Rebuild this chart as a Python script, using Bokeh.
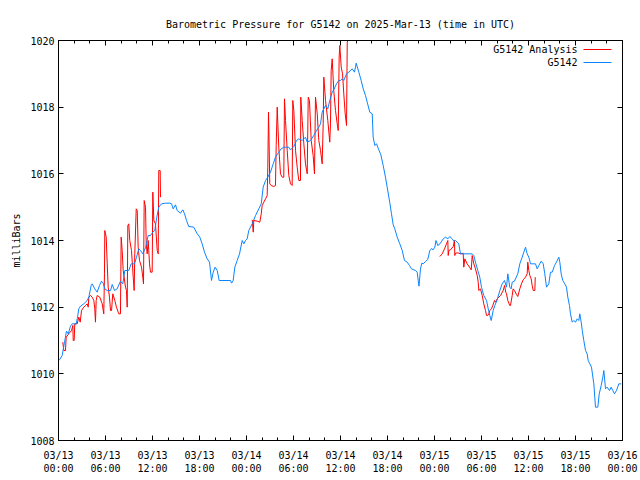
from bokeh.plotting import figure
from bokeh.models import FixedTicker, Range1d, LinearAxis, Label, Arrow
from bokeh.embed import file_html
from bokeh.resources import INLINE

FONT = "DejaVu Sans Mono"
TITLE = "Barometric Pressure for G5142 on 2025-Mar-13 (time in UTC)"
Y_LABEL = "milliBars"
SERIES_ANALYSIS = "G5142 Analysis"
SERIES_OBS = "G5142"

# hours since 2025-03-13 00:00 UTC
x_ticks = [0, 6, 12, 18, 24, 30, 36, 42, 48, 54, 60, 66, 72]
x_tick_labels = ["03/13\n00:00", "03/13\n06:00", "03/13\n12:00", "03/13\n18:00",
                 "03/14\n00:00", "03/14\n06:00", "03/14\n12:00", "03/14\n18:00",
                 "03/15\n00:00", "03/15\n06:00", "03/15\n12:00", "03/15\n18:00",
                 "03/16\n00:00"]
x_minor = list(range(0, 73, 2))
y_ticks = [1008, 1010, 1012, 1014, 1016, 1018, 1020]

# observed pressure (blue)
obs_t = [0, 0.13, 0.47, 0.77, 1.02, 1.24, 1.53, 1.75, 2.26, 2.43, 2.59, 2.81, 3.23, 3.66, 3.87,
         4.17, 4.30, 4.63, 4.94, 5.23, 5.49, 5.71, 5.91, 6.22, 6.64, 6.86, 7.15, 7.49, 7.91, 8.21,
         8.46, 8.97, 9.28, 9.70, 9.96, 10.25, 10.47, 10.76, 11.11, 11.45, 11.74, 12.04, 12.29,
         12.55, 12.80, 13.15, 13.66, 14.21, 14.43, 14.64, 14.94, 15.15, 15.57, 15.87, 16.09,
         16.34, 16.63, 17.27, 17.71, 18.04, 18.34, 18.64, 18.98, 19.28, 19.53, 19.75, 20.00,
         20.26, 20.51, 21.96, 22.09, 22.30, 22.51, 22.81, 23.11, 23.45, 23.66, 23.87, 24.09,
         24.29, 24.73, 25.15, 25.57, 25.88, 26.13, 26.43, 26.72, 27.06, 27.41, 27.70, 28.12,
         28.43, 28.76, 29.40, 29.62, 30.04, 30.38, 30.68, 31.11, 31.53, 31.75, 32.17, 32.59,
         32.81, 33.23, 33.45, 33.66, 34.09, 34.38, 34.63, 34.94, 35.14, 35.49, 35.78, 36.00,
         36.22, 36.42, 36.77, 37.06, 37.49, 37.79, 38.00, 38.34, 38.64, 38.90, 39.19, 39.41,
         39.74, 40.05, 40.17, 40.38, 40.60, 40.89, 41.14, 41.45, 41.74, 41.96, 42.28, 42.51,
         42.73, 42.93, 43.24, 43.57, 43.88, 44.17, 44.51, 44.81, 45.06, 45.57, 45.79, 45.92,
         46.02, 46.21, 46.38, 46.56, 46.85, 47.14, 47.39, 47.62, 47.83, 48.04, 48.19, 48.42,
         48.70, 49.11, 49.40, 49.70, 49.95, 50.26, 50.46, 50.68, 51.10, 51.32, 52.81, 53.02,
         53.23, 53.53, 53.78, 54.00, 54.29, 54.64, 54.86, 55.06, 55.24, 55.49, 55.70, 56.00,
         56.34, 56.64, 56.94, 57.19, 57.36, 57.61, 57.79, 57.92, 58.21, 58.63, 58.89, 59.20,
         59.40, 59.62, 59.83, 60.04, 60.26, 60.47, 60.89, 61.11, 61.32, 61.62, 61.88, 62.08,
         62.30, 62.59, 62.81, 63.03, 63.32, 63.57, 63.87, 64.00, 64.17, 64.38, 64.63, 64.85,
         65.02, 65.23, 65.36, 65.58, 65.78, 66.00, 66.22, 66.42, 66.55, 66.73, 66.86, 67.06,
         67.28, 67.49, 67.62, 67.83, 68.04, 68.34, 68.55, 68.85, 69.03, 69.28, 69.49, 69.62,
         69.83, 70.04, 70.34, 70.55, 70.76, 70.98, 71.23, 71.53, 71.83]
obs_p = [1010.40, 1010.42, 1010.55, 1010.95, 1011.28, 1011.20, 1011.43, 1011.50, 1011.50, 1011.70,
         1011.95, 1012.03, 1012.10, 1012.20, 1012.30, 1012.65, 1012.70, 1012.55, 1012.45, 1012.65,
         1012.78, 1012.72, 1012.55, 1012.50, 1012.50, 1012.68, 1012.50, 1012.55, 1012.78, 1012.70,
         1013.10, 1013.10, 1013.30, 1013.30, 1013.50, 1013.75, 1013.70, 1013.60, 1013.78, 1014.15,
         1014.15, 1014.25, 1014.30, 1014.70, 1015.00, 1015.10, 1015.12, 1015.12, 1015.10, 1014.95,
         1015.07, 1014.90, 1014.82, 1014.92, 1014.80, 1014.60, 1014.42, 1014.40, 1014.20, 1014.10,
         1013.90, 1013.65, 1013.45, 1013.35, 1012.80, 1013.05, 1013.20, 1013.10, 1012.80, 1012.80,
         1012.72, 1012.80, 1013.20, 1013.40, 1013.60, 1014.00, 1013.90, 1014.00, 1014.05, 1014.30,
         1014.50, 1014.75, 1014.95, 1015.10, 1015.60, 1015.80, 1015.90, 1016.05, 1016.30, 1016.50,
         1016.65, 1016.75, 1016.80, 1016.80, 1016.72, 1016.82, 1017.00, 1017.05, 1017.00, 1017.10,
         1016.95, 1017.00, 1017.15, 1017.25, 1017.40, 1017.50, 1017.85, 1018.05, 1017.95, 1018.20,
         1018.45, 1018.52, 1018.70, 1018.80, 1018.80, 1018.85, 1018.80, 1019.00, 1019.05, 1019.15,
         1019.05, 1019.32, 1019.05, 1018.80, 1018.55, 1018.35, 1018.15, 1017.85, 1017.80, 1017.10,
         1016.85, 1016.90, 1016.72, 1016.58, 1016.25, 1015.90, 1015.60, 1015.15, 1014.80, 1014.47,
         1014.35, 1014.10, 1013.90, 1013.70, 1013.40, 1013.35, 1013.25, 1013.15, 1013.10, 1013.05,
         1012.80, 1012.63, 1013.15, 1013.32, 1013.30, 1013.37, 1013.43, 1013.69, 1013.76, 1013.72,
         1013.80, 1014.00, 1013.85, 1013.90, 1014.05, 1014.10, 1014.05, 1014.12, 1014.05, 1013.98,
         1014.00, 1013.90, 1013.60, 1013.60, 1013.55, 1013.35, 1013.10, 1012.90, 1012.60, 1012.35,
         1012.20, 1011.95, 1011.75, 1011.60, 1011.90, 1012.05, 1012.22, 1012.50, 1012.70, 1012.80,
         1012.60, 1013.00, 1012.60, 1012.55, 1012.75, 1012.78, 1013.00, 1013.30, 1013.50, 1013.65,
         1013.80, 1013.60, 1013.50, 1013.30, 1013.30, 1013.30, 1013.15, 1013.25, 1013.38, 1013.30,
         1013.00, 1012.60, 1012.70, 1013.05, 1013.05, 1013.25, 1013.35, 1013.50, 1013.35, 1013.00,
         1012.80, 1012.70, 1012.60, 1012.30, 1012.05, 1011.80, 1011.55, 1011.60, 1011.55, 1011.65,
         1011.60, 1011.80, 1011.55, 1011.30, 1011.00, 1010.70, 1010.60, 1010.40, 1010.30, 1010.20,
         1009.70, 1009.00, 1009.00, 1009.40, 1009.65, 1009.90, 1010.10, 1009.55, 1009.60, 1009.50,
         1009.60, 1009.50, 1009.40, 1009.50, 1009.70, 1009.70]

# analysis (red), three runs
ana1_t = [0.55, 0.68, 0.89, 0.98, 1.31, 1.66, 1.83, 1.88, 2.00, 2.08, 2.39, 2.59, 2.77, 2.94, 3.23,
          3.45, 3.66, 3.79, 3.87, 4.09, 4.30, 4.51, 4.63, 4.72, 4.81, 4.94, 5.27, 5.58, 5.78, 5.87,
          5.91, 6.09, 6.22, 6.34, 6.51, 6.64, 6.77, 6.93, 7.19, 7.40, 7.62, 7.70, 7.91, 8.00, 8.13,
          8.26, 8.55, 8.68, 8.77, 8.85, 8.97, 9.10, 9.32, 9.54, 9.66, 9.74, 9.92, 10.05, 10.17,
          10.34, 10.60, 10.76, 10.85, 10.94, 11.11, 11.20, 11.32, 11.45, 11.62, 11.74, 11.96,
          12.04, 12.17, 12.38, 12.60, 12.73, 12.80, 12.98, 13.02]
ana1_p = [1010.95, 1010.70, 1010.70, 1011.10, 1011.20, 1011.30, 1011.45, 1011.00, 1011.00, 1011.50,
          1011.50, 1011.70, 1011.55, 1011.90, 1012.00, 1012.05, 1012.10, 1012.00, 1012.30, 1012.35,
          1012.30, 1012.20, 1011.95, 1011.55, 1012.20, 1012.35, 1012.30, 1012.10, 1011.80, 1013.00,
          1014.30, 1014.10, 1013.30, 1012.60, 1012.30, 1011.90, 1011.90, 1012.40, 1012.20, 1012.00,
          1011.85, 1011.80, 1011.80, 1014.10, 1013.70, 1013.10, 1012.60, 1012.50, 1012.00, 1014.45,
          1014.50, 1014.00, 1013.70, 1012.90, 1012.50, 1013.60, 1014.95, 1014.90, 1013.80, 1013.40,
          1013.20, 1012.90, 1012.70, 1015.20, 1015.00, 1013.90, 1013.60, 1014.00, 1013.30, 1013.05,
          1013.05, 1015.45, 1014.60, 1014.50, 1013.70, 1013.60, 1016.10, 1016.10, 1015.30]
ana2_t = [24.73, 24.86, 24.93, 25.37, 25.70, 25.88, 26.00, 26.21, 26.43, 26.64, 26.72, 26.81, 26.90,
          26.97, 27.15, 27.48, 27.70, 27.79, 27.92, 28.00, 28.12, 28.34, 28.56, 28.76, 28.85, 28.98,
          29.20, 29.40, 29.62, 29.83, 29.91, 30.04, 30.26, 30.47, 30.68, 30.89, 30.93, 31.11, 31.32,
          31.53, 31.75, 31.88, 32.04, 32.26, 32.51, 32.68, 32.81, 33.03, 33.23, 33.45, 33.66, 33.79,
          33.87, 34.09, 34.38, 34.63, 34.72, 34.81, 34.94, 35.14, 35.36, 35.58, 35.71, 35.83, 35.91,
          36.09, 36.26, 36.42, 36.60, 36.77, 36.86, 36.93]
ana2_p = [1014.62, 1014.25, 1014.60, 1014.58, 1014.55, 1014.80, 1015.05, 1015.15, 1015.25, 1015.35,
          1016.20, 1017.85, 1016.75, 1015.70, 1015.65, 1015.62, 1015.65, 1016.85, 1018.00, 1017.50,
          1016.80, 1016.00, 1015.90, 1015.90, 1018.25, 1017.60, 1016.70, 1015.95, 1015.70, 1015.65,
          1018.20, 1017.90, 1016.70, 1016.20, 1015.80, 1015.80, 1018.30, 1017.60, 1016.90, 1016.30,
          1016.00, 1018.30, 1018.20, 1017.00, 1016.55, 1016.00, 1018.30, 1017.80, 1017.00, 1016.70,
          1016.30, 1017.50, 1018.90, 1018.20, 1017.60, 1016.95, 1017.50, 1019.10, 1019.45, 1018.50,
          1017.90, 1017.50, 1017.30, 1019.50, 1019.85, 1019.20, 1019.00, 1018.40, 1017.80, 1017.45,
          1019.95, 1020.00]
ana3_t = [48.68, 48.98, 49.28, 49.53, 49.70, 49.75, 49.83, 50.04, 50.39, 50.55, 50.59, 50.68, 50.97,
          51.32, 51.66, 51.74, 51.87, 52.17, 52.47, 52.69, 52.81, 53.02, 53.23, 53.45, 53.58, 53.66,
          53.87, 54.09, 54.29, 54.51, 54.64, 54.80, 54.93, 55.06, 55.28, 55.44, 55.66, 55.79, 56.00,
          56.43, 56.77, 56.94, 57.10, 57.19, 57.36, 57.61, 57.70, 57.92, 58.04, 58.21, 58.47, 58.63,
          58.89, 59.10, 59.32, 59.62, 59.83, 59.91, 60.04, 60.17, 60.34, 60.47, 60.60, 60.81, 60.86]
ana3_p = [1013.52, 1013.60, 1013.75, 1013.90, 1014.00, 1013.55, 1013.70, 1013.72, 1013.82, 1014.00,
          1013.55, 1013.62, 1013.63, 1013.60, 1013.62, 1013.20, 1013.45, 1013.30, 1013.20, 1013.12,
          1013.55, 1013.30, 1013.15, 1012.95, 1012.75, 1012.50, 1012.55, 1012.35, 1012.10, 1011.90,
          1011.75, 1011.75, 1011.80, 1011.90, 1011.95, 1012.05, 1012.20, 1012.15, 1012.25, 1012.35,
          1012.50, 1012.65, 1012.45, 1012.40, 1012.20, 1012.05, 1012.05, 1012.35, 1012.55, 1012.50,
          1012.38, 1012.32, 1012.55, 1012.70, 1012.82, 1012.90, 1013.00, 1013.35, 1013.10, 1012.95,
          1012.85, 1012.65, 1012.50, 1012.50, 1012.90]

RED = "#ff0000"
BLUE = "#0a84ff"

p = figure(width=640, height=480, x_range=Range1d(0, 72), y_range=Range1d(1008, 1020),
           output_backend="svg", toolbar_location=None,
           min_border_left=58, min_border_right=18, min_border_top=40, min_border_bottom=40,
           x_axis_type=None, y_axis_type=None)
p.background_fill_color = "white"
p.border_fill_color = "white"
p.outline_line_color = "black"
p.outline_line_width = 1
p.xgrid.visible = False
p.ygrid.visible = False

p.title.text = TITLE
p.title.align = "center"
p.title.text_font = FONT
p.title.text_font_size = "10px"
p.title.text_font_style = "normal"
p.title.text_color = "black"
p.title.standoff = 22

def style(ax):
    ax.axis_line_color = "black"
    ax.major_tick_in = 5
    ax.major_tick_out = 0
    ax.minor_tick_in = 3
    ax.minor_tick_out = 0
    ax.major_label_text_font = FONT
    ax.major_label_text_font_size = "10px"
    ax.major_label_text_color = "black"

def mirror(ax, ticks):
    style(ax)
    ax.major_label_overrides = {t: "" for t in ticks}
    ax.major_label_text_color = None
    ax.major_label_standoff = 0

xt = FixedTicker(ticks=x_ticks, minor_ticks=x_minor)
yt = FixedTicker(ticks=y_ticks, minor_ticks=[])

xb = LinearAxis(ticker=xt)
style(xb)
xb.major_label_overrides = {t: l for t, l in zip(x_ticks, x_tick_labels)}
xb.major_label_standoff = 9
p.add_layout(xb, "below")

xa = LinearAxis(ticker=xt)
mirror(xa, x_ticks)
p.add_layout(xa, "above")

yl = LinearAxis(ticker=yt, axis_label=Y_LABEL)
style(yl)
yl.major_label_standoff = 4
yl.axis_label_text_font = FONT
yl.axis_label_text_font_size = "10px"
yl.axis_label_text_font_style = "normal"
yl.axis_label_text_color = "black"
yl.axis_label_standoff = 5
p.add_layout(yl, "left")

yr = LinearAxis(ticker=yt)
mirror(yr, y_ticks)
p.add_layout(yr, "right")

for tt, pp in ((ana1_t, ana1_p), (ana2_t, ana2_p), (ana3_t, ana3_p)):
    p.line(tt, pp, line_color=RED, line_width=1)
p.line(obs_t, obs_p, line_color=BLUE, line_width=1)

# gnuplot-style key (text right-aligned, sample to the right)
for i, (name, col) in enumerate(((SERIES_ANALYSIS, RED), (SERIES_OBS, BLUE))):
    yy = 391 - 13 * i
    p.add_layout(Label(x=519, y=yy, x_units="screen", y_units="screen", text=name,
                       text_align="right", text_baseline="middle", text_font=FONT,
                       text_font_size="10px", text_color="black"))
    p.add_layout(Arrow(start=None, end=None, x_start=525, y_start=yy, x_end=553, y_end=yy,
                       start_units="screen", end_units="screen", line_color=col, line_width=1))

open("out.html", "w").write(file_html(p, INLINE))
